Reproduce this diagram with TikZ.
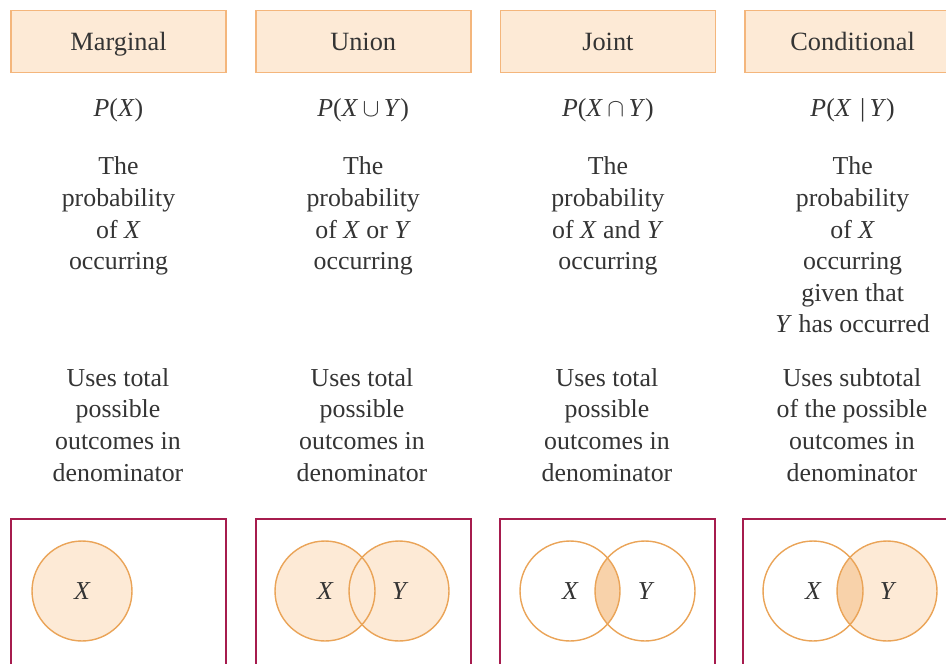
\documentclass[tikz,border=0pt]{standalone}
\usepackage{fontspec}
\setmainfont{Liberation Serif}
\usepackage{tikz}
\usetikzlibrary{positioning}
\definecolor{peach}{RGB}{253,234,214}
\definecolor{peachline}{RGB}{244,182,124}
\definecolor{ring}{RGB}{234,164,88}
\definecolor{lens}{RGB}{248,210,170}
\definecolor{frame}{RGB}{166,28,78}
\definecolor{ink}{RGB}{52,52,52}

\begin{document}
\begin{tikzpicture}[
  x=0.02cm, y=-0.02cm,
  node distance=0.56cm,
  head/.style={draw=peachline, line width=1pt, fill=peach, minimum width=4.3cm, minimum height=1.24cm,
               inner sep=0pt, text height=10pt, text depth=0pt,
               font=\fontsize{15}{18}\selectfont, text=ink},
  form/.style={inner sep=0pt, font=\fontsize{14.7}{17.6}\selectfont, text=ink},
  desc/.style={align=center, inner sep=0pt, font=\fontsize{14.7}{18}\selectfont, text=ink},
  venn/.style={draw=frame, line width=1.2pt, minimum width=4.3cm, minimum height=3.8cm,
               inner sep=0pt, anchor=north west},
  set/.style={circle, draw=ring, line width=0.8pt, minimum size=2cm, inner sep=0pt,
              font=\fontsize{14.7}{17.6}\selectfont\itshape, text=ink}
]
  \useasboundingbox (0,0) rectangle (946,663);
  \clip (0,0) rectangle (946,663);

  % headers
  \node[head] (marg) at (118.5,41.5) {Marginal};
  \node[head, right=of marg] (union) {Union};
  \node[head, right=of union] (joint) {Joint};
  \node[head, right=of joint] (cond) {Conditional};

  % formulas
  \node[form, below=0.5cm of marg] (pmarg) {\textit{P}(\textit{X})};
  \node[form, below=0.5cm of union] (punion) {\textit{P}(\textit{X}\,$\cup$\,\textit{Y})};
  \node[form, below=0.5cm of joint] (pjoint) {\textit{P}(\textit{X}\,$\cap$\,\textit{Y})};
  \node[form, below=0.5cm of cond] (pcond) {\textit{P}(\textit{X}\,\,|\,\textit{Y})};

  % meaning
  \node[desc, below=0.68cm of pmarg] (dmarg) {The\\probability\\of \textit{X}\\occurring};
  \node[desc, below=0.68cm of punion] (dunion) {The\\probability\\of \textit{X} or \textit{Y}\\occurring};
  \node[desc, below=0.68cm of pjoint] (djoint) {The\\probability\\of \textit{X} and \textit{Y}\\occurring};
  \node[desc, below=0.68cm of pcond] (dcond) {The\\probability\\of \textit{X}\\occurring\\given that\\\textit{Y} has occurred};

  % denominators
  \node[desc, anchor=north] (umarg) at (118,368) {Uses total\\possible\\outcomes in\\denominator};
  \node[desc, anchor=north] (uunion) at (362,368) {Uses total\\possible\\outcomes in\\denominator};
  \node[desc, anchor=north] (ujoint) at (607,368) {Uses total\\possible\\outcomes in\\denominator};
  \node[desc, anchor=north] (ucond) at (852,368) {Uses subtotal\\of the possible\\outcomes in\\denominator};

  % venn frames
  \node[venn] (fmarg) at (10,518) {};
  \node[venn] (funion) at (255,518) {};
  \node[venn] (fjoint) at (499,518) {};
  \node[venn] (fcond) at (742,518) {};

  % marginal
  \node[set, fill=peach] (mx) at (82,591) {X};

  % union
  \fill[peach] (325,591) circle (1cm) (399,591) circle (1cm);
  \node[set] (ux) at (325,591) {X};
  \node[set] (uy) at (399,591) {Y};

  % joint
  \begin{scope}
    \clip (570,591) circle (1cm);
    \fill[lens] (645,591) circle (1cm);
  \end{scope}
  \node[set] (jx) at (570,591) {X};
  \node[set] (jy) at (645,591) {Y};

  % conditional
  \fill[peach] (887,591) circle (1cm);
  \begin{scope}
    \clip (813,591) circle (1cm);
    \fill[lens] (887,591) circle (1cm);
  \end{scope}
  \node[set] (cx) at (813,591) {X};
  \node[set] (cy) at (887,591) {Y};
\end{tikzpicture}
\end{document}
